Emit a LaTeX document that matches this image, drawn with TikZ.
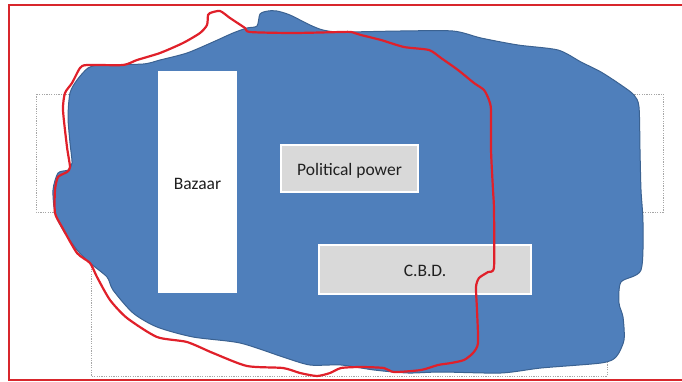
\documentclass[tikz,border=0pt]{standalone}
\usepackage{fontspec}
\setmainfont{Carlito}
\definecolor{frame}{HTML}{D8262C}
\definecolor{blobfill}{HTML}{4F7FBB}
\definecolor{blobline}{HTML}{3B6291}
\definecolor{boxgray}{HTML}{D9D9D9}
\definecolor{boundary}{HTML}{E0202A}
\definecolor{textcol}{HTML}{202020}
\tikzset{
  guide/.style={draw=gray!70, line width=0.7pt, dash pattern=on 1.2pt off 1.2pt},
  zonetext/.style={inner sep=0pt, text height=14pt, text depth=0pt,
    font=\fontsize{17.5}{20}\selectfont, text=textcol},
  labelbox/.style={zonetext, fill=boxgray, draw=white, line width=2pt},
  whitebox/.style={zonetext, fill=white},
}
\begin{document}
\begin{tikzpicture}[x=1pt, y=-1pt]
\useasboundingbox (0,0) rectangle (682,381);
% outer frame
\draw[frame, line width=2pt] (690,5) -- (9,5) -- (9,379.5) -- (690,379.5);
% faint guide rectangles behind the city area
\draw[guide] (36,94) rectangle (663,212);
\draw[guide] (91,240) rectangle (607,376);
% built-up area
\draw[fill=blobfill, draw=blobline, line width=1pt]
  plot[smooth cycle, tension=0.45] coordinates {
  (257,26) (260,14) (268,11) (277,11) (290,15) (310,25) (323,30) (341,32)
  (400,31) (453,31) (481,38) (518,45) (558,50) (581,62) (601,72) (621,85)
  (634,95) (639,107) (640,150) (641,190) (643,223) (641,270) (621,282)
  (619,303) (623,317) (624,340) (616,357) (601,363) (541,368) (501,373)
  (441,372) (408,373) (374,370) (341,365) (310,365) (283,357) (240,343)
  (193,337) (157,327) (133,313) (113,290) (107,277) (90,263) (77,250)
  (63,230) (55,213) (53,190) (58,173) (68,170) (72,163) (70,143) (68,117)
  (70,93) (77,80) (88,68) (100,65) (143,64) (160,60) (187,53) (213,42)
  (233,33) (247,28)};
% zones
\node[whitebox, minimum width=79pt, minimum height=222pt] (bazaar) at (197.5,182) {Bazaar};
\node[labelbox, minimum width=137pt, minimum height=47pt] (power) at (349.5,168) {Political power};
\node[labelbox, minimum width=212pt, minimum height=49pt] (cbd) at (425,269.5) {C.B.D.};
% old city boundary
\draw[boundary, line width=2.2pt, line join=round]
  plot[smooth cycle, tension=0.4] coordinates {
  (210,13) (220,11) (230,18) (245,28) (250,32) (293,33) (341,32) (351,32)
  (361,35) (381,40) (404,47) (429,50) (441,58) (458,70) (474,83) (484,90)
  (489,100) (491,110) (491,150) (493,190) (494,210) (494,267) (488,272)
  (479,278) (476,287) (477,310) (478,343) (473,353) (464,360) (451,363)
  (438,365) (421,370) (394,372) (384,368) (361,367) (341,368) (330,373)
  (317,376) (300,373) (283,368) (247,366) (213,353) (187,342) (157,337)
  (127,318) (110,300) (97,277) (90,263) (77,253) (62,227) (55,213)
  (55,190) (58,177) (67,172) (70,167) (67,147) (63,110) (65,93) (72,83)
  (80,68) (87,65) (123,65) (137,60) (160,53) (183,43) (200,33) (207,25)
  (208,15)};
\end{tikzpicture}
\end{document}
